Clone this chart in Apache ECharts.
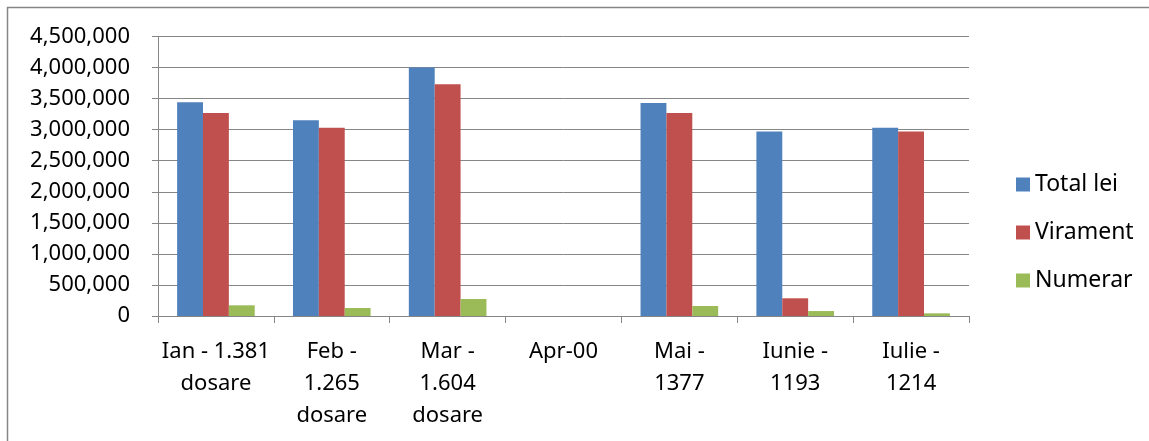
<!DOCTYPE html>
<html>
<head>
<meta charset="utf-8">
<script src="https://cdn.jsdelivr.net/npm/echarts@6/dist/echarts.min.js"></script>
<style>
  html, body { margin: 0; padding: 0; background: #fff; }
  #chart { width: 1149px; height: 441px; }
</style>
</head>
<body>
<div id="chart"></div>
<script>
// luni (cu numarul de dosare)
const categories = [
  'Ian - 1.381\ndosare',
  'Feb -\n1.265\ndosare',
  'Mar -\n1.604\ndosare',
  'Apr-00',
  'Mai -\n1377',
  'Iunie -\n1193',
  'Iulie -\n1214'
];
const totalLei = [3440000, 3150000, 4000000, 0, 3430000, 2970000, 3030000];
const virament = [3270000, 3030000, 3730000, 0, 3270000, 285000, 2970000];
const numerar = [172000, 129000, 274000, 0, 161000, 80000, 43000];
const yTicks = { min: 0, max: 4500000, interval: 500000 };

const font = '"Noto Sans", sans-serif';
const grey = '#868686';

const chart = echarts.init(document.getElementById('chart'));

const mkSeries = (name, data, color) => ({
  name: name,
  type: 'bar',
  data: data,
  barGap: '0%',
  barCategoryGap: '33%',
  itemStyle: { color: color },
  emphasis: { disabled: true }
});

chart.setOption({
  animation: false,
  textStyle: { fontFamily: font },
  grid: { left: 158, right: 180, top: 36.5, bottom: 125 },
  legend: {
    orient: 'vertical',
    left: 1011,
    top: 168,
    itemWidth: 14,
    itemHeight: 14,
    itemGap: 25,
    icon: 'rect',
    textStyle: { fontFamily: font, fontSize: 23, color: '#000', lineHeight: 23, padding: [0, 0, 0, 0] },
    data: ['Total lei', 'Virament', 'Numerar']
  },
  xAxis: {
    type: 'category',
    data: categories,
    axisLine: { lineStyle: { color: grey, width: 1 } },
    axisTick: { show: true, length: 7, alignWithLabel: false, lineStyle: { color: grey } },
    axisLabel: {
      interval: 0,
      margin: 20,
      fontFamily: font,
      fontSize: 22,
      lineHeight: 32,
      color: '#000',
      align: 'center'
    }
  },
  yAxis: {
    type: 'value',
    min: yTicks.min,
    max: yTicks.max,
    interval: yTicks.interval,
    axisLine: { show: true, lineStyle: { color: grey, width: 1 } },
    axisTick: { show: true, length: 6, lineStyle: { color: grey } },
    splitLine: { lineStyle: { color: grey, width: 1 } },
    axisLabel: {
      margin: 28,
      fontFamily: font,
      fontSize: 22,
      color: '#000',
      formatter: v => v.toLocaleString('en-US')
    }
  },
  graphic: [{
    type: 'rect',
    silent: true,
    shape: { x: 7.5, y: 7.5, width: 1300, height: 600 },
    style: { fill: 'none', stroke: grey, lineWidth: 1.5 }
  }],
  series: [
    mkSeries('Total lei', totalLei, '#4F81BD'),
    mkSeries('Virament', virament, '#C0504D'),
    mkSeries('Numerar', numerar, '#9BBB59')
  ]
});
</script>
</body>
</html>
